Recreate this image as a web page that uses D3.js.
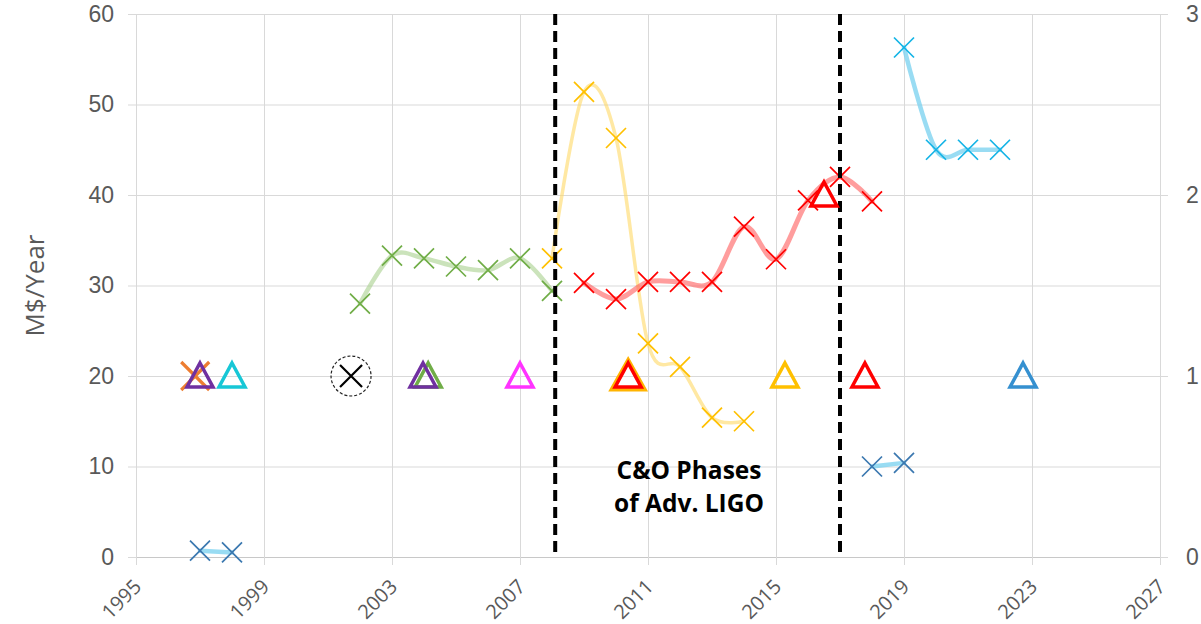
<!DOCTYPE html>
<html><head><meta charset="utf-8">
<script src="https://cdn.jsdelivr.net/npm/d3@7"></script>
<style>
body{margin:0;background:#fff}
svg text{font-family:"Open Sans",sans-serif}
</style>
</head><body>
<svg id="chart" width="1201" height="624"></svg>
<script>
// ---------- data ----------
const xTicks = [1995, 1999, 2003, 2007, 2011, 2015, 2019, 2023, 2027];
const yTicks = [0, 10, 20, 30, 40, 50, 60];
const y2Ticks = [0, 1, 2, 3];

const greenYears  = [2002, 2003, 2004, 2005, 2006, 2007, 2008];
const greenValues = [28, 33.3, 33, 32.1, 31.7, 33, 29.4];

const yellowYears  = [2008, 2009, 2010, 2011, 2012, 2013, 2014];
const yellowValues = [33, 51.4, 46.3, 23.6, 21, 15.4, 15];

const redYears  = [2009, 2010, 2011, 2012, 2013, 2014, 2015, 2016, 2017, 2018];
const redValues = [30.3, 28.5, 30.4, 30.4, 30.4, 36.5, 32.9, 39.4, 42, 39.3];

const cyanYears  = [2019, 2020, 2021, 2022];
const cyanValues = [56.3, 45, 45, 45];

const blueEarlyYears  = [1997, 1998];
const blueEarlyValues = [0.7, 0.5];
const blueLateYears   = [2018, 2019];
const blueLateValues  = [10, 10.4];

const phaseYears = [2008.1, 2017.0];
const phaseLabel = ["C&O Phases", "of Adv. LIGO"];
const yTitle = "M$/Year";

// event markers on the secondary axis
const eventNames  = ["orangeX", "purpleA", "cyanA", "blackCircle", "greenA", "purpleB", "magenta", "goldBig", "redA", "goldB", "redB", "redC", "blueA"];
const eventYears  = [1996.85, 1997.0, 1998.0, 2001.72, 2004.13, 2003.97, 2007.0, 2010.38, 2010.38, 2015.28, 2016.5, 2017.78, 2022.72];
const eventValues = [1, 1, 1, 1, 1, 1, 1, 1, 1, 1, 2, 1, 1];
const eventShapes = ["x", "tri", "tri", "cx", "tri", "tri", "tri", "bigtri", "tri", "tri", "tri", "tri", "tri"];

// ---------- styles ----------
const eventColor = d3.scaleOrdinal().domain(eventNames).range([
  "#ed7d31", "#7030a0", "#17c7d6", "#000000", "#70ad47", "#7030a0", "#ff33ff",
  "#ffb400", "#ff0000", "#ffc000", "#ff0000", "#ff0000", "#3590d0"]);

const svg = d3.select("#chart");
const L = 136, R = 1160, T = 14, B = 557;
const x = d3.scaleLinear().domain([1995, 2027]).range([L, R]);
const y = d3.scaleLinear().domain([0, 60]).range([B, T]);
const y2 = d3.scaleLinear().domain([0, 3]).range([B, T]);

const gridColor = "#d9d9d9", textColor = "#595959";
const tickFont = '"Liberation Sans", Arial, sans-serif';

// gridlines
svg.append("g").attr("transform", `translate(0,${B})`)
  .call(d3.axisBottom(x).tickValues(xTicks).tickSize(-(B - T)).tickSizeOuter(0).tickFormat(""))
  .call(g => g.select(".domain").remove())
  .call(g => g.selectAll("line").attr("stroke", gridColor));
svg.append("g").attr("transform", `translate(${L},0)`)
  .call(d3.axisLeft(y).tickValues(yTicks).tickSize(-(R - L)).tickSizeOuter(0).tickFormat(""))
  .call(g => g.select(".domain").remove())
  .call(g => g.selectAll("line").attr("stroke", gridColor));

// left axis
svg.append("g").attr("transform", `translate(${L},0)`)
  .call(d3.axisLeft(y).tickValues(yTicks).tickSize(8).tickPadding(14))
  .call(g => g.select(".domain").remove())
  .call(g => g.selectAll("line").attr("stroke", gridColor))
  .call(g => g.selectAll("text").attr("fill", textColor)
      .style("font-family", tickFont).style("font-size", "23px"));

// right axis
svg.append("g").attr("transform", `translate(${R},0)`)
  .call(d3.axisRight(y2).tickValues(y2Ticks).tickSize(8).tickPadding(18).tickFormat(d3.format("d")))
  .call(g => g.select(".domain").attr("stroke", gridColor))
  .call(g => g.selectAll("line").attr("stroke", gridColor))
  .call(g => g.selectAll("text").attr("fill", textColor)
      .style("font-family", tickFont).style("font-size", "23px"));

// bottom axis
svg.append("g").attr("transform", `translate(0,${B})`)
  .call(d3.axisBottom(x).tickValues(xTicks).tickSize(8).tickFormat(d3.format("d")))
  .call(g => g.select(".domain").attr("stroke", "#c8c8c8"))
  .call(g => g.selectAll("line").attr("stroke", gridColor))
  .call(g => g.selectAll("text")
      .attr("fill", textColor).style("font-size", "20px")
      .attr("x", 0).attr("y", 0).attr("dy", 0)
      .attr("text-anchor", "end")
      .attr("transform", "translate(6,31) rotate(-45)"));

// y title
svg.append("text")
  .attr("transform", `translate(44,${(T + B) / 2}) rotate(-90)`)
  .attr("text-anchor", "middle")
  .attr("fill", textColor).style("font-size", "26px")
  .text(yTitle);

// series lines and markers
const xPath = s => `M${-s},${-s}L${s},${s}M${-s},${s}L${s},${-s}`;
function series(years, values, lineColor, lineWidth, lineOpacity, markColor) {
  const pts = years.map((yr, i) => [yr, values[i]]);
  const line = d3.line().x(d => x(d[0])).y(d => y(d[1])).curve(d3.curveCardinal.tension(0));
  svg.append("path").datum(pts).attr("d", line)
    .attr("fill", "none").attr("stroke", lineColor)
    .attr("stroke-width", lineWidth).attr("stroke-opacity", lineOpacity)
    .attr("stroke-linecap", "round");
  svg.append("g").selectAll("path").data(pts).join("path")
    .attr("transform", d => `translate(${x(d[0])},${y(d[1])})`)
    .attr("d", xPath(10)).attr("fill", "none")
    .attr("stroke", markColor).attr("stroke-width", 1.7);
}
series(greenYears, greenValues, "#a9d18e", 4.5, 0.6, "#70ad47");
series(yellowYears, yellowValues, "#ffd966", 3.5, 0.6, "#ffc000");
series(redYears, redValues, "#ff5b5b", 5, 0.6, "#ff0000");
series(cyanYears, cyanValues, "#7fd3f0", 4.5, 0.8, "#14b4e6");
series(blueEarlyYears, blueEarlyValues, "#7fd3f0", 4.5, 0.8, "#3b78b0");
series(blueLateYears, blueLateValues, "#7fd3f0", 4.5, 0.8, "#3b78b0");

// phase lines (drawn over the series)
svg.append("g").selectAll("line").data(phaseYears).join("line")
  .attr("x1", d => x(d)).attr("x2", d => x(d))
  .attr("y1", T).attr("y2", B)
  .attr("stroke", "#000").attr("stroke-width", 4).attr("stroke-dasharray", "11,6");

svg.append("g").selectAll("text").data(phaseLabel).join("text")
  .attr("x", 689).attr("y", (d, i) => 479 + i * 33)
  .attr("text-anchor", "middle")
  .style("font-size", "24.5px").style("font-weight", "bold").attr("fill", "#000")
  .text(d => d);

// event markers
const triPath = (w, hTop, hBot) => `M0,${-hTop}L${w},${hBot}L${-w},${hBot}Z`;
const ev = eventNames.map((n, i) => ({ n, yr: eventYears[i], v: eventValues[i], s: eventShapes[i] }));
const evG = svg.append("g");
ev.forEach(d => {
  const g = evG.append("g").attr("transform", `translate(${x(d.yr)},${y2(d.v)})`);
  const c = eventColor(d.n);
  if (d.s === "tri") {
    g.append("path").attr("d", triPath(13, 13, 11)).attr("fill", "none")
      .attr("stroke", c).attr("stroke-width", 3.5).attr("stroke-linejoin", "miter");
  } else if (d.s === "bigtri") {
    g.append("path").attr("d", triPath(16.5, 16, 13.5)).attr("fill", "none")
      .attr("stroke", c).attr("stroke-width", 4);
  } else if (d.s === "x") {
    g.append("path").attr("d", xPath(14)).attr("stroke", c).attr("stroke-width", 3.2);
  } else if (d.s === "cx") {
    g.append("circle").attr("r", 20).attr("fill", "none").attr("stroke", "#222")
      .attr("stroke-width", 1.2).attr("stroke-dasharray", "3,2");
    g.append("path").attr("d", xPath(11)).attr("stroke", c).attr("stroke-width", 2.2);
  }
});
</script>
</body></html>
